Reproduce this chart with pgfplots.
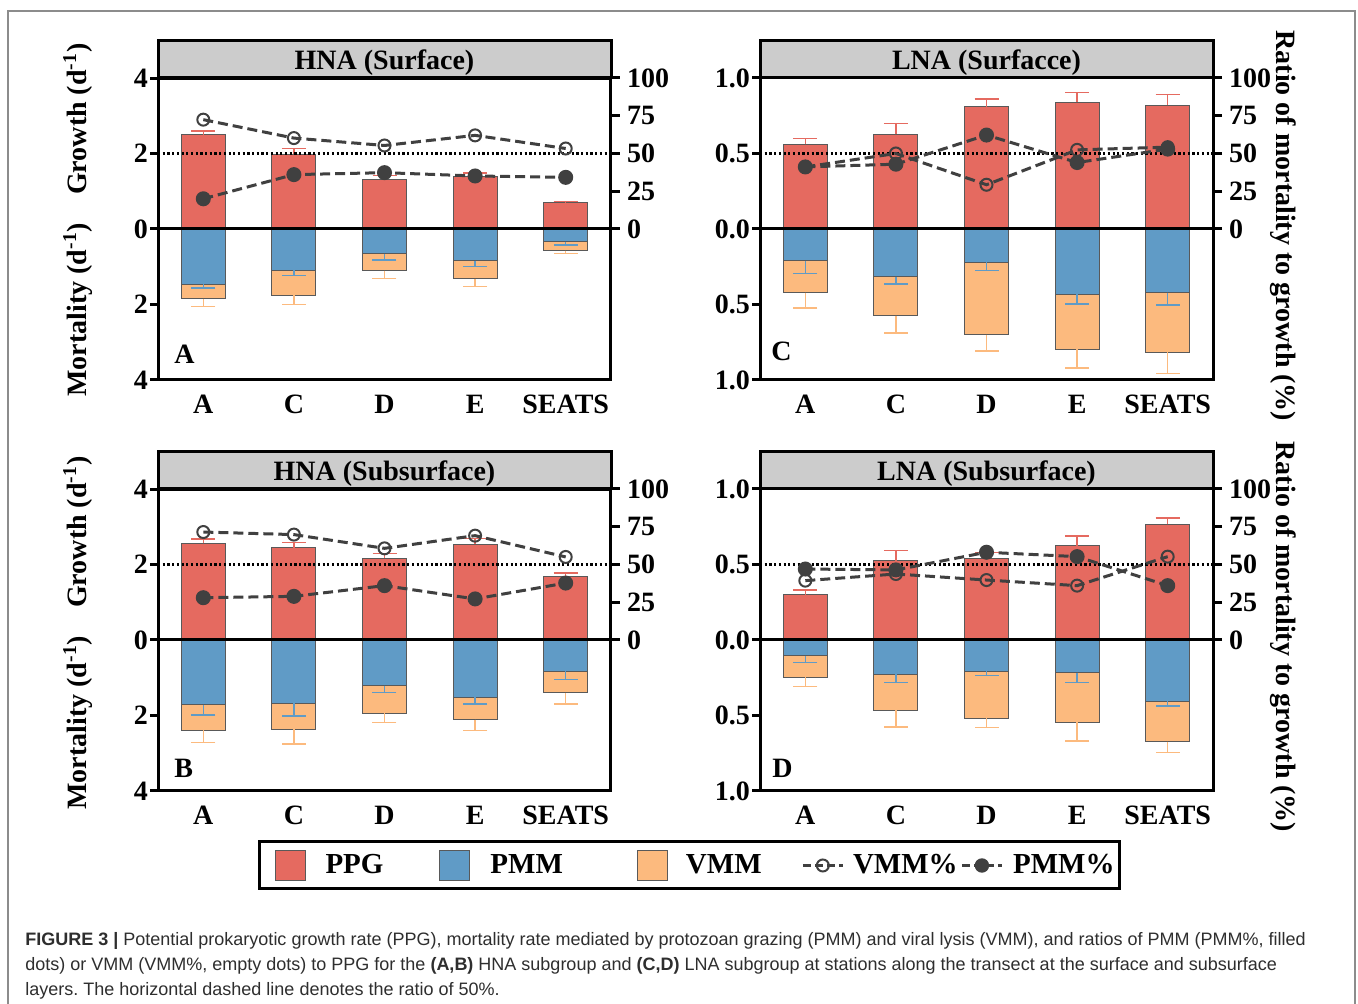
\documentclass[border=0pt]{standalone}
\usepackage{pgfplots}
\pgfplotsset{compat=1.18}
\usepackage{pgfplotstable}
\usepackage{fontspec}
\setmainfont{Liberation Serif}
\newfontfamily\capfont{Liberation Sans}
\frenchspacing

\definecolor{ppg}{RGB}{229,106,96}
\definecolor{pmm}{RGB}{96,155,198}
\definecolor{vmm}{RGB}{252,186,126}
\definecolor{stripgray}{RGB}{204,204,204}
\definecolor{linegray}{RGB}{64,64,64}
\definecolor{framegray}{RGB}{140,140,140}

% HNA surface
\pgfplotstableread{
x PPG ePPG PMM ePMM VMM eVMM VMMp PMMp
0 2.49 0.11 1.46 0.10 0.39 0.20 72.4 20.0
1 1.98 0.15 1.09 0.14 0.66 0.25 60.2 36.0
2 1.30 0.11 0.66 0.16 0.44 0.21 55.3 37.3
3 1.39 0.09 0.84 0.16 0.48 0.21 62.0 35.1
4 0.70 0.03 0.34 0.08 0.23 0.08 53.3 34.2
}\dataA
% HNA subsurface
\pgfplotstableread{
x PPG ePPG PMM ePMM VMM eVMM VMMp PMMp
0 2.56 0.12 1.72 0.27 0.67 0.33 71.5 28.0
1 2.45 0.13 1.68 0.33 0.69 0.39 69.8 28.9
2 2.17 0.12 1.21 0.18 0.73 0.24 60.7 36.0
3 2.53 0.16 1.52 0.18 0.59 0.29 69.1 27.2
4 1.67 0.11 0.83 0.22 0.57 0.30 55.0 37.7
}\dataB
% LNA surface
\pgfplotstableread{
x PPG ePPG PMM ePMM VMM eVMM VMMp PMMp
0 0.560 0.040 0.211 0.085 0.211 0.102 41.1 41.1
1 0.627 0.073 0.316 0.048 0.257 0.116 50.0 42.9
2 0.810 0.050 0.220 0.053 0.482 0.105 29.3 62.2
3 0.840 0.064 0.433 0.063 0.363 0.124 52.4 44.0
4 0.820 0.070 0.422 0.082 0.394 0.142 54.2 52.9
}\dataC
% LNA subsurface
\pgfplotstableread{
x PPG ePPG PMM ePMM VMM eVMM VMMp PMMp
0 0.298 0.033 0.106 0.044 0.141 0.062 39.3 47.0
1 0.525 0.067 0.227 0.053 0.239 0.110 43.7 46.4
2 0.541 0.040 0.208 0.028 0.309 0.061 39.7 58.1
3 0.625 0.064 0.216 0.064 0.329 0.124 36.0 55.2
4 0.766 0.042 0.406 0.031 0.267 0.073 55.2 36.0
}\dataD

\newcommand\bigfont{\fontsize{14}{16}\selectfont\bfseries}

\pgfplotsset{
  baseax/.style={scale only axis, width=226.5pt, height=151pt, xmin=-0.5, xmax=4.5,
    anchor=south west, ticklabel style={font=\bigfont}},
  leftax/.style={baseax, axis line style={line width=1.5pt},
    xtick={0,1,2,3,4}, xticklabels={A,C,D,E,SEATS}, x tick style={draw=none},
    ytick pos=left, tick align=outside, y tick style={line width=1.5pt, black},
    major tick length=4pt, yticklabel style={xshift=2.5pt}},
  rightax/.style={baseax, axis y line*=right, axis x line=none, ymin=-100, ymax=100,
    ytick={0,25,50,75,100}, yticklabels={0,25,50,75,100}, tick align=outside,
    y axis line style={line width=1.5pt}, y tick style={line width=1.5pt, black},
    major tick length=4.5pt},
  bars/.style={ybar, bar width=22pt, bar shift=0pt, draw=black!65, line width=0.5pt},
  ratio/.style={linegray, line width=1.5pt, dash pattern=on 5pt off 2.5pt, mark size=3pt},
  sqleg/.style={legend image code/.code={\draw[##1] (0pt,-7.5pt) rectangle (15pt,7.5pt);}},
  sqlegfirst/.style={legend image code/.code={\path (-7pt,0pt); \draw[##1] (0pt,-7.5pt) rectangle (15pt,7.5pt);}},
  lnleg/.style={legend image code/.code={\draw[mark repeat=2, mark phase=2, ##1] plot coordinates {(0pt,0pt) (10pt,0pt) (20pt,0pt)};}},
}

\newcommand\panel[7]{%
\begin{axis}[leftax, at={(#1,#2)}, ymin=-#4, ymax=#4, ytick={#5}, yticklabels={#6}]
 \addplot[bars, fill=ppg, error bars/.cd, y dir=plus, y explicit,
   error bar style={ppg, line width=0.7pt}, error mark options={ppg, rotate=90, mark size=6pt, line width=0.7pt}]
   table[x=x, y=PPG, y error=ePPG]{#3};
 \addplot[bars, fill=vmm, error bars/.cd, y dir=minus, y explicit,
   error bar style={vmm, line width=0.7pt}, error mark options={vmm, rotate=90, mark size=6pt, line width=0.7pt}]
   table[x=x, y expr=-\thisrow{PMM}-\thisrow{VMM}, y error=eVMM]{#3};
 \addplot[bars, fill=pmm, error bars/.cd, y dir=minus, y explicit,
   error bar style={pmm, line width=0.7pt}, error mark options={pmm, rotate=90, mark size=6pt, line width=0.7pt}]
   table[x=x, y expr=-\thisrow{PMM}, y error=ePMM]{#3};
 \addplot[black, line width=1.5pt] coordinates {(-0.5,0) (4.5,0)};
\end{axis}
\begin{axis}[rightax, at={(#1,#2)}]
 \addplot[black, line width=1.1pt, dash pattern=on 1.1pt off 1.25pt] coordinates {(-0.5,50) (4.5,50)};
 \addplot[ratio, mark=o, mark options={solid, line width=1pt}] table[x=x, y=VMMp]{#3};
 \addplot[ratio, mark=*, mark options={solid, fill=linegray}] table[x=x, y=PMMp]{#3};
\end{axis}
\draw[fill=stripgray, line width=1.5pt] (#1,#2+151pt) rectangle ++(226.5pt,18.5pt);
\node[font=\bigfont, inner sep=0pt] at (#1+113.25pt,#2+158.75pt) {#7};
}

\begin{document}
\begin{tikzpicture}
\useasboundingbox (0,0) rectangle (679pt,502pt);
\fill[white] (0,0) rectangle (679pt,502pt);
\draw[framegray, line width=0.6pt] (4pt,-1pt) -- (4pt,496.5pt) -- (677.5pt,496.5pt) -- (677.5pt,-1pt);

\panel{79pt}{312pt}{\dataA}{4}{-4,-2,0,2,4}{4,2,0,2,4}{HNA (Surface)}
\panel{380pt}{312pt}{\dataC}{1}{-1,-0.5,0,0.5,1}{1.0,0.5,0.0,0.5,1.0}{LNA (Surfacce)}
\panel{79pt}{106.5pt}{\dataB}{4}{-4,-2,0,2,4}{4,2,0,2,4}{HNA (Subsurface)}
\panel{380pt}{106.5pt}{\dataD}{1}{-1,-0.5,0,0.5,1}{1.0,0.5,0.0,0.5,1.0}{LNA (Subsurface)}

% panel letters
\node[font=\bigfont, anchor=base west, inner sep=0pt] at (87pt,320pt) {A};
\node[font=\bigfont, anchor=base west, inner sep=0pt] at (385.5pt,321.5pt) {C};
\node[font=\bigfont, anchor=base west, inner sep=0pt] at (87pt,113pt) {B};
\node[font=\bigfont, anchor=base west, inner sep=0pt] at (386pt,113pt) {D};

% axis titles
\node[font=\bigfont, rotate=90] at (39pt,392pt) {Mortality (d\textsuperscript{-1})\quad Growth (d\textsuperscript{-1})};
\node[font=\bigfont, rotate=90] at (39pt,185.5pt) {Mortality (d\textsuperscript{-1})\quad Growth (d\textsuperscript{-1})};
\node[font=\bigfont, rotate=-90] at (641.5pt,389pt) {Ratio of mortality to growth (\%)};
\node[font=\bigfont, rotate=-90] at (641.5pt,183.5pt) {Ratio of mortality to growth (\%)};

% legend
\begin{axis}[scale only axis, width=429.5pt, height=24.5pt, at={(129pt,57pt)}, anchor=south west,
  hide axis, xmin=0, xmax=1, ymin=0, ymax=1,
  legend style={at={(0,0.5)}, anchor=west, draw=black, line width=1.5pt, legend columns=5,
    font=\fontsize{14.5}{16}\selectfont\bfseries, inner xsep=0.5pt, inner ysep=4pt,
    /tikz/column 1/.style={column sep=8pt},
    /tikz/column 2/.style={column sep=26pt},
    /tikz/column 3/.style={column sep=8pt},
    /tikz/column 4/.style={column sep=35pt},
    /tikz/column 5/.style={column sep=7pt},
    /tikz/column 6/.style={column sep=18pt},
    /tikz/column 7/.style={column sep=2.5pt},
    /tikz/column 8/.style={column sep=-0.5pt},
    /tikz/column 9/.style={column sep=3pt}}]
 \addlegendimage{sqlegfirst, fill=ppg, draw=black!65, line width=0.5pt}
 \addlegendentry{PPG}
 \addlegendimage{sqleg, fill=pmm, draw=black!65, line width=0.5pt}
 \addlegendentry{PMM}
 \addlegendimage{sqleg, fill=vmm, draw=black!65, line width=0.5pt}
 \addlegendentry{VMM}
 \addlegendimage{lnleg, linegray, line width=1.2pt, dash pattern=on 4pt off 2pt, mark=o, mark size=3pt, mark options={solid, line width=1pt}}
 \addlegendentry{VMM\%}
 \addlegendimage{lnleg, linegray, line width=1.2pt, dash pattern=on 4pt off 2pt, mark=*, mark size=3pt, mark options={solid, fill=linegray}}
 \addlegendentry{PMM\%}
\end{axis}

% caption
\begin{scope}[every node/.style={anchor=base west, inner sep=0pt, font=\capfont\fontsize{9}{11}\selectfont, text=black!82}]
\node at (12.5pt,29pt) {\textbf{FIGURE 3 |} Potential prokaryotic growth rate (PPG), mortality rate mediated by protozoan grazing (PMM) and viral lysis (VMM), and ratios of PMM (PMM\%, filled};
\node at (12.5pt,16.5pt) {dots) or VMM (VMM\%, empty dots) to PPG for the \textbf{(A,B)} HNA subgroup and \textbf{(C,D)} LNA subgroup at stations along the transect at the surface and subsurface};
\node at (12.5pt,4pt) {layers. The horizontal dashed line denotes the ratio of 50\%.};
\end{scope}
\end{tikzpicture}
\end{document}
